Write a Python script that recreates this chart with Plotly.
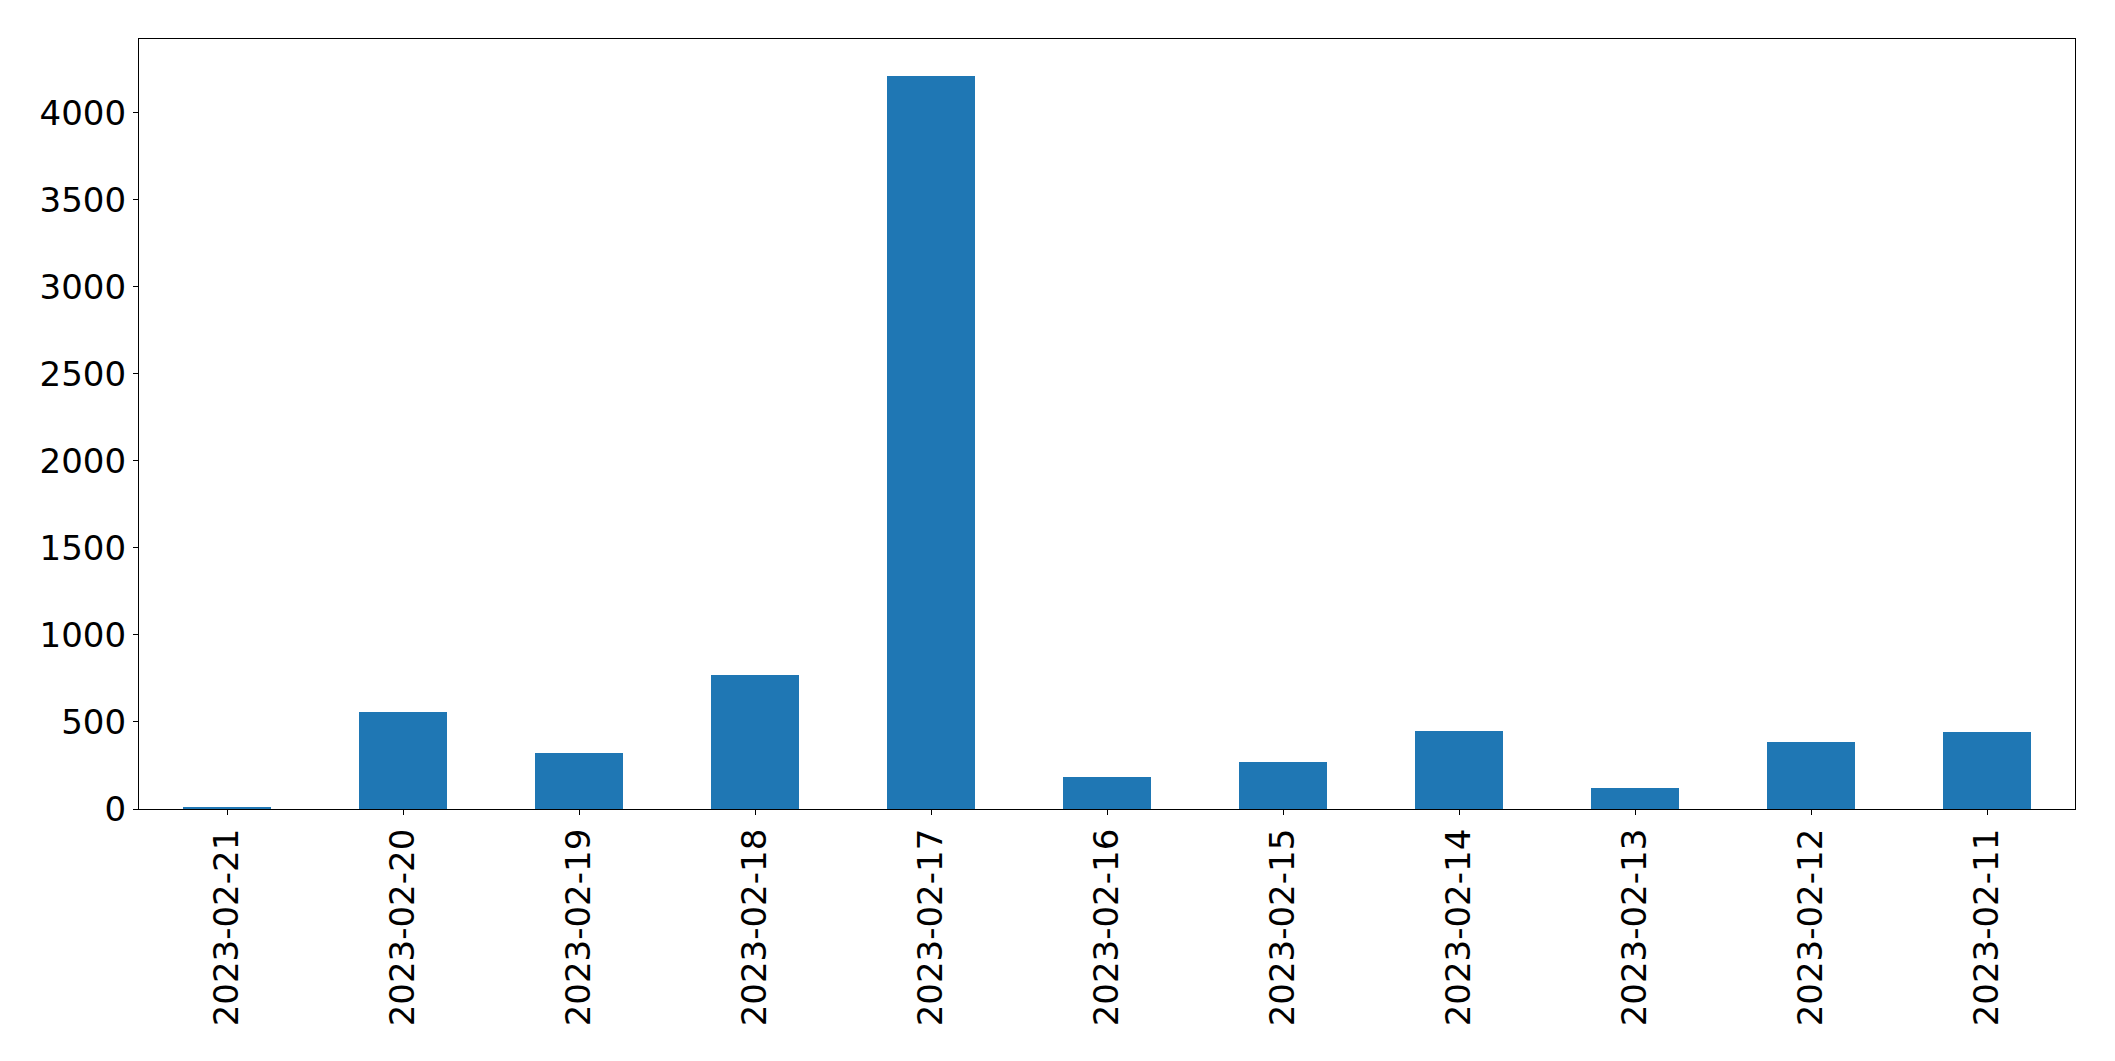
import plotly.graph_objects as go

dates = ["2023-02-21", "2023-02-20", "2023-02-19", "2023-02-18", "2023-02-17",
         "2023-02-16", "2023-02-15", "2023-02-14", "2023-02-13", "2023-02-12",
         "2023-02-11"]
counts = [12, 557, 322, 772, 4214, 186, 272, 450, 122, 387, 444]
y_ticks = [0, 500, 1000, 1500, 2000, 2500, 3000, 3500, 4000]

fig = go.Figure(go.Bar(x=dates, y=counts, width=0.5, marker_color="#1f77b4",
                       marker_line_width=0))

axis_font = dict(family="DejaVu Sans", size=34, color="black")
fig.update_layout(
    width=2107, height=1053,
    margin=dict(l=131, r=40, t=31, b=252),
    plot_bgcolor="white", paper_bgcolor="white",
    showlegend=False,
    bargap=0,
)
fig.update_xaxes(type="category", range=[-0.5, len(dates) - 0.5],
                 tickangle=-90, tickfont=axis_font,
                 showline=True, linecolor="black", linewidth=1.3, mirror=True,
                 ticks="outside", ticklen=5, tickwidth=1.3, tickcolor="black",
                 showgrid=False, zeroline=False)
fig.update_yaxes(range=[0, max(counts) * 1.05], tickvals=y_ticks,
                 tickfont=axis_font,
                 showline=True, linecolor="black", linewidth=1.3, mirror=True,
                 ticks="outside", ticklen=5, tickwidth=1.3, tickcolor="black",
                 showgrid=False, zeroline=False)

fig.write_html("out.html")
